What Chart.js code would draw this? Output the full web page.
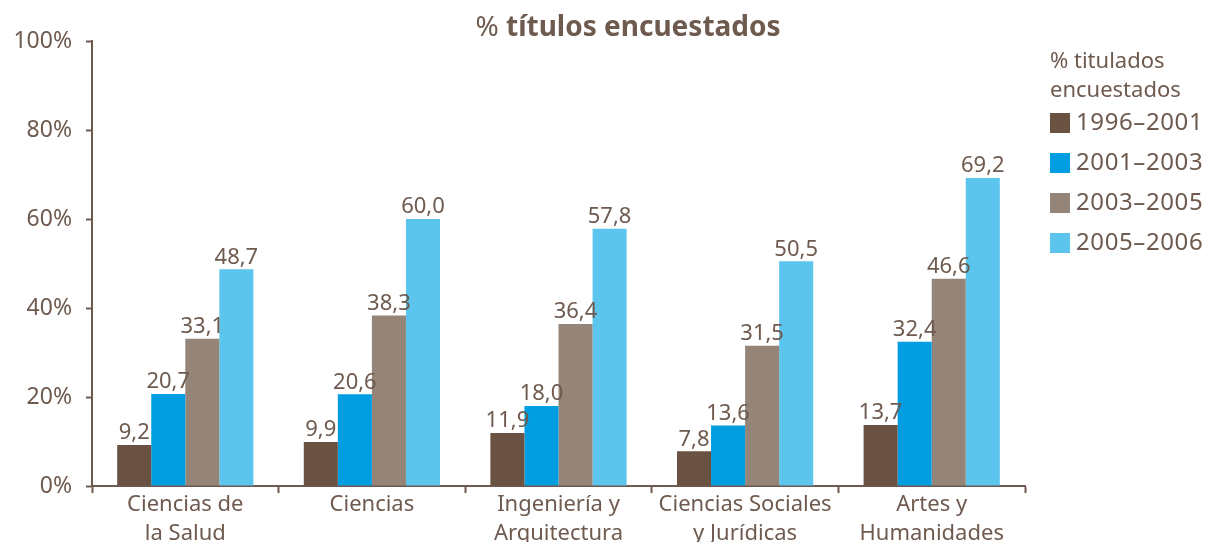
<!DOCTYPE html>
<html>
<head>
<meta charset="utf-8">
<script src="https://cdn.jsdelivr.net/npm/chart.js@4/dist/chart.umd.min.js"></script>
<style>
  html, body { margin: 0; padding: 0; background: #fff; }
  #wrap { width: 1208px; height: 542px; position: relative; }
</style>
</head>
<body>
<div id="wrap"><canvas id="barChart"></canvas></div>
<script>
const categories = [
    ["Ciencias de", "la Salud"],
    ["Ciencias"],
    ["Ingeniería y", "Arquitectura"],
    ["Ciencias Sociales", "y Jurídicas"],
    ["Artes y", "Humanidades"]
];
const periods = ["1996–2001", "2001–2003", "2003–2005", "2005–2006"];
const serie1996 = [9.2, 9.9, 11.9, 7.8, 13.7];
const serie2001 = [20.7, 20.6, 18.0, 13.6, 32.4];
const serie2003 = [33.1, 38.3, 36.4, 31.5, 46.6];
const serie2005 = [48.7, 60.0, 57.8, 50.5, 69.2];
const yTicks = [0, 20, 40, 60, 80, 100];
const chartTitle = ["% ", "títulos encuestados"];
const legendTitle = ["% titulados", "encuestados"];

const textColor = "#6e5a4e";
const fontName = "'Noto Sans', sans-serif";
const colors = ["#6a5242", "#009ee0", "#958579", "#5bc5ed"];

// title with a normal "%" and a bold rest
const titlePlugin = {
    id: "titlePlugin",
    afterDraw(chart) {
        const ctx = chart.ctx;
        ctx.save();
        ctx.fillStyle = textColor;
        ctx.textBaseline = "middle";
        ctx.font = "400 28px " + fontName;
        const w1 = ctx.measureText(chartTitle[0]).width;
        ctx.font = "700 28px " + fontName;
        const w2 = ctx.measureText(chartTitle[1]).width;
        let x = 628 - (w1 + w2) / 2;
        ctx.font = "400 28px " + fontName;
        ctx.fillText(chartTitle[0], x, 28);
        ctx.font = "700 28px " + fontName;
        ctx.fillText(chartTitle[1], x + w1, 28);
        ctx.restore();
    }
};

// values above each bar
const valuePlugin = {
    id: "valuePlugin",
    afterDatasetsDraw(chart) {
        const ctx = chart.ctx;
        ctx.save();
        ctx.fillStyle = textColor;
        ctx.font = "22px " + fontName;
        ctx.textAlign = "center";
        ctx.textBaseline = "bottom";
        chart.data.datasets.forEach((ds, i) => {
            chart.getDatasetMeta(i).data.forEach((bar, j) => {
                ctx.fillText(ds.data[j].toFixed(1).replace(".", ","), bar.x, bar.y - 1);
            });
        });
        ctx.restore();
    }
};

// legend on the right with a two-line title
const legendPlugin = {
    id: "legendPlugin",
    afterDraw(chart) {
        const ctx = chart.ctx;
        const x0 = chart.chartArea.right + 25;
        ctx.save();
        ctx.fillStyle = textColor;
        ctx.font = "22px " + fontName;
        ctx.textBaseline = "middle";
        legendTitle.forEach((line, i) => ctx.fillText(line, x0, 62 + i * 29));
        ctx.font = "24px " + fontName;
        ctx.letterSpacing = "0.6px";
        chart.data.datasets.forEach((ds, i) => {
            const cy = 123 + i * 40;
            ctx.fillStyle = ds.backgroundColor;
            ctx.fillRect(x0, cy - 10, 20, 20);
            ctx.fillStyle = textColor;
            ctx.fillText(ds.label, x0 + 26, cy);
        });
        ctx.restore();
    }
};

const allSeries = [serie1996, serie2001, serie2003, serie2005];

new Chart(document.getElementById("barChart"), {
    type: "bar",
    data: {
        labels: categories,
        datasets: periods.map((p, i) => ({
            label: p,
            data: allSeries[i],
            backgroundColor: colors[i],
            categoryPercentage: 0.73,
            barPercentage: 1.0,
        })),
    },
    options: {
        responsive: true,
        maintainAspectRatio: false,
        animation: false,
        layout: { padding: { left: 0, right: 183, top: 41, bottom: 0 } },
        plugins: {
            legend: { display: false },
            title: { display: false },
            tooltip: { enabled: false },
        },
        scales: {
            x: {
                afterFit: (s) => { s.height = 56; },
                border: { color: textColor, width: 2 },
                grid: { drawOnChartArea: false, tickLength: 7, tickColor: textColor, tickWidth: 2 },
                ticks: { color: textColor, padding: -3, font: { family: fontName, size: 22, lineHeight: 1.32 } },
            },
            y: {
                min: 0,
                max: 100,
                afterFit: (s) => { s.width = 92; },
                afterBuildTicks: (s) => { s.ticks = yTicks.map((v) => ({ value: v })); },
                border: { color: textColor, width: 2 },
                grid: { drawOnChartArea: false, tickLength: 6, tickColor: textColor, tickWidth: 2 },
                ticks: { color: textColor, padding: 14, font: { family: fontName, size: 23 }, callback: (v) => v + "%" },
            },
        },
    },
    plugins: [titlePlugin, valuePlugin, legendPlugin],
});
</script>
</body>
</html>
